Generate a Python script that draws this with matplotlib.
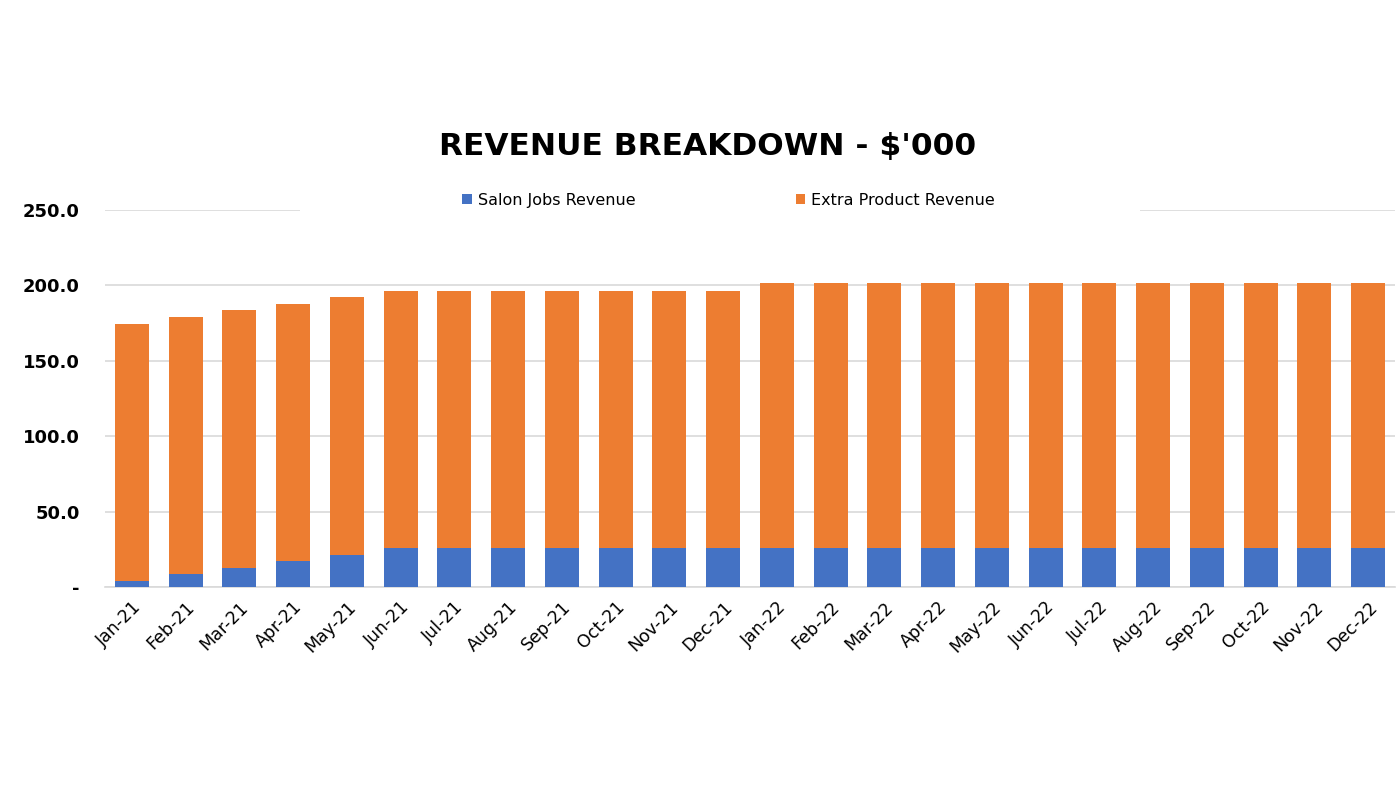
import matplotlib
matplotlib.use("Agg")
import matplotlib.pyplot as plt
from matplotlib.ticker import FuncFormatter
from matplotlib.patches import Rectangle
import numpy as np

months = ["Jan-21", "Feb-21", "Mar-21", "Apr-21", "May-21", "Jun-21", "Jul-21", "Aug-21",
          "Sep-21", "Oct-21", "Nov-21", "Dec-21", "Jan-22", "Feb-22", "Mar-22", "Apr-22",
          "May-22", "Jun-22", "Jul-22", "Aug-22", "Sep-22", "Oct-22", "Nov-22", "Dec-22"]
salon_jobs = [4.3, 8.6, 12.9, 17.2, 21.5, 25.8, 25.8, 25.8, 25.8, 25.8, 25.8, 25.8,
              25.8, 25.8, 25.8, 25.8, 25.8, 25.8, 25.8, 25.8, 25.8, 25.8, 25.8, 25.8]
extra_product = [170.3, 170.4, 170.6, 170.5, 170.5, 170.5, 170.5, 170.5, 170.5, 170.5, 170.5, 170.5,
                 175.8, 175.8, 175.8, 175.8, 175.8, 175.8, 175.8, 175.8, 175.8, 175.8, 175.8, 175.8]
series_names = ["Salon Jobs Revenue", "Extra Product Revenue"]
yticks = [0, 50, 100, 150, 200, 250]

fig = plt.figure(figsize=(13.96, 7.86), dpi=100)
ax = fig.add_axes([0.0752, 0.2532, 0.9241, 0.4796])

x = np.arange(len(months))
w = 0.63
ax.bar(x, salon_jobs, w, color="#4472C4", label=series_names[0], zorder=3)
ax.bar(x, extra_product, w, bottom=salon_jobs, color="#ED7D31", label=series_names[1], zorder=3)

ax.set_xlim(-0.5, len(months) - 0.5)
ax.set_ylim(0, 250)
ax.set_yticks(yticks)
ax.yaxis.set_major_formatter(FuncFormatter(lambda v, p: "-" if v == 0 else f"{v:.1f}"))
ax.grid(axis="y", color="#d9d9d9", linewidth=1.2, zorder=0)
for s in ["top", "right", "left"]:
    ax.spines[s].set_visible(False)
ax.spines["bottom"].set_color("#d9d9d9")
ax.spines["bottom"].set_linewidth(1.2)
ax.tick_params(axis="both", length=0)
ax.tick_params(axis="y", pad=18)
for lbl in ax.get_yticklabels():
    lbl.set_fontweight("heavy")
    lbl.set_fontsize(13)
ax.set_xticks(x)
ax.set_xticklabels(months, rotation=45, ha="right", rotation_mode="anchor", fontsize=12.5)
ax.tick_params(axis="x", pad=8)

fig.text(0.507, 0.813, "REVENUE BREAKDOWN - $'000", ha="center", va="center",
         fontsize=22.5, fontweight="heavy")

# white band behind legend (legend area covers gridline)
fig.patches.append(Rectangle((300 / 1396, 1 - 222 / 786), 840 / 1396, 40 / 786,
                             transform=fig.transFigure, facecolor="white",
                             edgecolor="none", zorder=5))

leg = fig.legend(loc="center", bbox_to_anchor=(0.522, 0.745), ncol=2, frameon=False,
                 fontsize=11.5, handlelength=0.6, handleheight=0.6, handletextpad=0.4,
                 columnspacing=10.0, borderpad=0.5, borderaxespad=0)
leg.set_zorder(10)

fig.savefig("out.png", dpi=100, facecolor="white")
